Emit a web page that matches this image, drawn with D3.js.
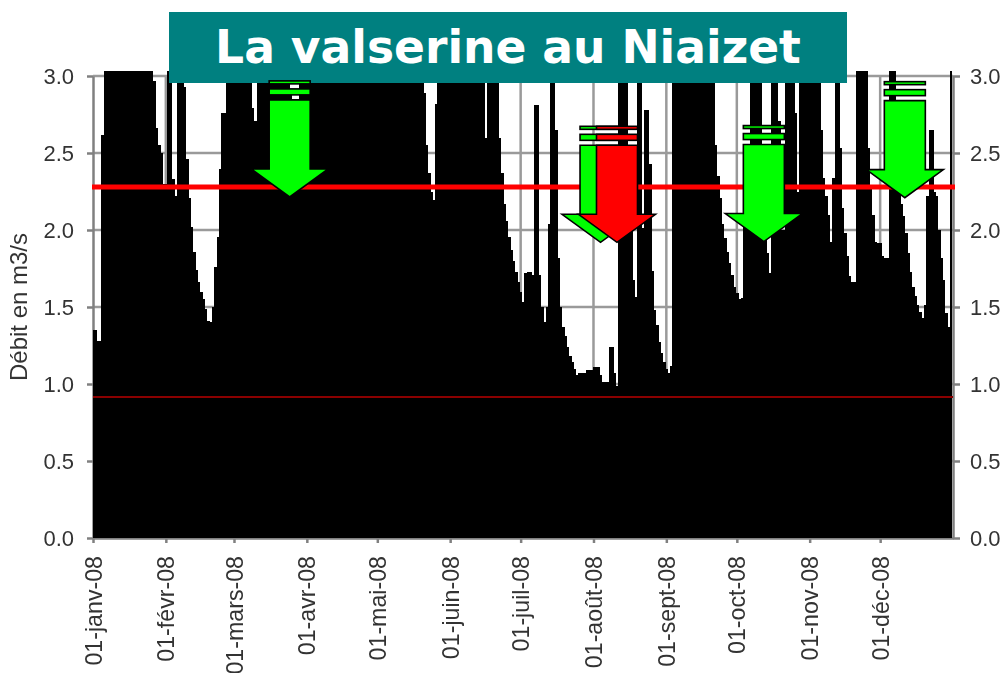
<!DOCTYPE html>
<html lang="fr">
<head>
<meta charset="UTF-8">
<title>La valserine au Niaizet</title>
<script src="https://d3js.org/d3.v7.min.js"></script>
<style>
    html, body { margin: 0; padding: 0; background: #fff; overflow: hidden; }
    svg { display: block; }
    .tick text, .ylabel { font-family: "Liberation Sans", Arial, sans-serif; fill: #333; }
    .tick line, .domain { stroke: #808080; stroke-width: 2.5; }
    .grid line { stroke: #9a9a9a; stroke-width: 2.5; }
    .soft { filter: blur(0.55px); }
    .bars rect { shape-rendering: crispEdges; }
</style>
</head>
<body>
<script>
const title = "La valserine au Niaizet";
const yLabel = "Débit en m3/s";
const monthLabels = ["01-janv-08", "01-févr-08", "01-mars-08", "01-avr-08", "01-mai-08", "01-juin-08",
    "01-juil-08", "01-août-08", "01-sept-08", "01-oct-08", "01-nov-08", "01-déc-08"];
const yTicks = [0, 0.5, 1, 1.5, 2, 2.5, 3];

// daily flow (m3/s), one list per month; 3.03 = off the top of the chart
const janv = [1.35,1.35,1.28,1.28,2.62,3.03,3.03,3.03,3.03,3.03,3.03,3.03,3.03,3.03,3.03,3.03,3.03,3.03,3.03,3.03,3.03,3.03,3.03,3.03,3.03,3.03,2.97,2.66,2.55,2.5,2.3];
const fevr = [2.3,3.03,3.03,2.33,2.22,3.03,3.03,3.03,2.93,2.46,2.21,2.02,1.86,1.74,1.665,1.6,1.55,1.49,1.41,1.405,1.5,1.76,1.955,2.395,2.76,2.76,3.03,3.03,3.03];
const mars = [3.03,3.03,3.03,3.03,3.03,3.03,3.03,3.03,2.79,2.71,3.03,3.03,3.03,3.03,3.03,3.03,3.03,3.03,3.03,3.03,3.03,3.03,3.03,3.03,2.9,2.82,2.82,2.82,3.03,3.03,3.03];
const avr = [3.03,3.03,3.03,3.03,3.03,3.03,3.03,3.03,3.03,3.03,3.03,3.03,3.03,3.03,3.03,3.03,3.03,3.03,3.03,3.03,3.03,3.03,3.03,3.03,3.03,3.03,3.03,3.03,3.03,3.03];
const mai = [3.03,3.03,3.03,3.03,3.03,3.03,3.03,3.03,3.03,3.03,3.03,3.03,3.03,3.03,3.03,3.03,3.03,3.03,3.03,3.03,2.89,2.55,2.37,2.25,2.195,2.82,3.03,3.03,3.03,3.03,3.03];
const juin = [3.03,3.03,3.03,3.03,3.03,3.03,3.03,3.03,3.03,3.03,3.03,3.03,3.03,3.03,3.03,2.6,3.03,3.03,3.03,3.03,3.03,2.6,2.37,2.17,2.06,1.955,1.87,1.8,1.73,1.665];
const juil = [1.6,1.53,1.72,1.73,1.73,1.71,2.81,2.81,1.71,1.5,1.405,1.5,2.04,3.03,3.03,2.65,1.82,1.5,1.37,1.31,1.24,1.18,1.145,1.1,1.06,1.07,1.07,1.07,1.09,1.09,1.09];
const aout = [1.11,1.11,1.11,1.06,1.01,1.01,1.01,1.24,1.24,1.07,0.99,3.03,3.03,3.03,3.03,2.05,2.05,1.675,1.565,3.03,3.03,2.01,2.78,2.78,2.43,1.735,1.48,1.38,1.275,1.2,1.145];
const sept = [1.1,1.07,1.12,3.03,3.03,3.03,3.03,3.03,3.03,3.03,3.03,3.03,3.03,3.03,3.03,3.03,3.03,3.03,3.03,3.03,3.03,2.55,2.35,2.21,2.04,1.95,1.86,1.785,1.71,1.63];
const oct = [1.59,1.55,1.56,2.1,2.1,2.1,3.03,3.03,3.03,3.03,3.03,2,2,1.85,1.72,3.03,3.03,3.03,2.71,2,2,3.03,3.03,3.03,3.03,2.76,2.25,3.03,3.03,3.03,3.03];
const nov = [3.03,3.03,3.03,3.03,3.03,2.65,2.34,2.22,2.1,1.92,2.34,3.03,3.03,2.53,2.14,1.98,1.83,1.7,1.665,1.665,3.03,3.03,3.03,3.03,3.03,2.53,2.27,2.1,1.92,1.915];
const dec = [1.915,1.83,1.82,1.82,3.03,3.03,3.03,2.3,2.25,2.17,2.09,1.98,1.85,1.73,1.63,1.57,1.51,1.47,1.43,1.51,2.22,2.65,2.65,2.25,2.22,2,1.82,1.675,1.46,1.37,3.03];
const months = [janv, fevr, mars, avr, mai, juin, juil, aout, sept, oct, nov, dec];

// the two reference flows
const seuilHaut = 2.28;
const seuilBas = 0.915;

// arrows: day of year of the tip, flow at the tip, colour (drawn in this order)
const arrowDays = [83.7, 216, 223, 285.5, 345.5];
const arrowTips = [2.215, 1.92, 1.92, 1.925, 2.21];
const arrowColors = ["#00ff00", "#00ff00", "#ff0000", "#00ff00", "#00ff00"];

const width = 1006, height = 673;
const margin = { top: 76, right: 53, bottom: 135, left: 93 };

const flow = months.flat();
let start = 0;
const monthStarts = months.map(m => { const s = start; start += m.length; return s; });

const x = d3.scaleLinear().domain([0, flow.length]).range([margin.left, width - margin.right]);
const y = d3.scaleLinear().domain([0, 3]).range([height - margin.bottom, margin.top]);

const svg = d3.select("body").append("svg").attr("width", width).attr("height", height);
const chart = svg.append("g").attr("class", "soft");

// grid
chart.append("g").attr("class", "grid").selectAll("line").data(yTicks.slice(1)).enter().append("line")
    .attr("x1", x.range()[0]).attr("x2", x.range()[1])
    .attr("y1", d => y(d)).attr("y2", d => y(d));
chart.append("g").attr("class", "grid").selectAll("line").data(monthStarts.slice(1)).enter().append("line")
    .attr("x1", d => x(d)).attr("x2", d => x(d))
    .attr("y1", y.range()[0]).attr("y2", y.range()[1]);

// axes
const axisY = chart.append("g").attr("transform", `translate(${x.range()[0]},0)`)
    .call(d3.axisLeft(y).tickValues(yTicks).tickFormat(d3.format(".1f")).tickSize(6).tickSizeOuter(0).tickPadding(13));
const axisY2 = chart.append("g").attr("transform", `translate(${x.range()[1]},0)`)
    .call(d3.axisRight(y).tickValues(yTicks).tickFormat(d3.format(".1f")).tickSize(7).tickSizeOuter(0).tickPadding(10));
[axisY, axisY2].forEach(a => a.selectAll("text").attr("font-size", 22));

const axisX = chart.append("g").attr("transform", `translate(0,${y.range()[0]})`)
    .call(d3.axisBottom(x).tickValues(monthStarts).tickFormat((d, i) => monthLabels[i]).tickSize(5).tickSizeOuter(0));
axisX.selectAll("text")
    .attr("font-size", 23.2)
    .attr("text-anchor", "end")
    .attr("transform", "rotate(-90)")
    .attr("x", -18)
    .attr("y", 0)
    .attr("dy", "0.35em");

chart.append("text").attr("class", "ylabel")
    .attr("transform", `translate(27,${y(1.5)}) rotate(-90)`)
    .attr("text-anchor", "middle")
    .attr("font-size", 24)
    .text(yLabel);

// daily bars
chart.append("g").attr("class", "bars").selectAll("rect").data(flow).enter().append("rect")
    .attr("x", (d, i) => x(Math.max(i - 0.4, 0)))
    .attr("width", (d, i) => x(i + 0.6) - x(Math.max(i - 0.4, 0)) + 0.3)
    .attr("y", d => y(d))
    .attr("height", d => y(0) - y(d))
    .attr("fill", "#000");

// reference lines
chart.append("line").attr("x1", x.range()[0] - 1).attr("x2", x.range()[1] + 2)
    .attr("y1", y(seuilHaut)).attr("y2", y(seuilHaut))
    .attr("stroke", "#ff0000").attr("stroke-width", 5);
chart.append("line").attr("x1", x.range()[0]).attr("x2", x.range()[1])
    .attr("y1", y(seuilBas)).attr("y2", y(seuilBas))
    .attr("stroke", "#8b0000").attr("stroke-width", 2);

// title banner, under the arrows
svg.append("rect").attr("x", 169).attr("y", 12).attr("width", 678).attr("height", 71).attr("fill", "#008080");
svg.append("text").attr("x", 508).attr("y", 63)
    .attr("text-anchor", "middle")
    .attr("font-family", "'DejaVu Sans', Verdana, sans-serif")
    .attr("font-weight", "bold")
    .attr("font-size", 45.6)
    .attr("fill", "#fff")
    .text(title);

// block arrows with two broken bands over the shaft
function drawArrow(day, tip, color) {
    const cx = x(day), ty = y(tip);
    const g = svg.append("g").attr("fill", color).attr("stroke", "#000").attr("stroke-width", 1.6);
    g.append("polygon").attr("points", [
        [cx - 20.5, ty - 97], [cx + 20.5, ty - 97], [cx + 20.5, ty - 28], [cx + 38.5, ty - 28],
        [cx, ty], [cx - 38.5, ty - 28], [cx - 20.5, ty - 28]
    ].join(" "));
    g.append("rect").attr("x", cx - 20.5).attr("width", 41).attr("y", ty - 108).attr("height", 6);
    g.append("rect").attr("x", cx - 20.5).attr("width", 41).attr("y", ty - 116).attr("height", 3);
}
arrowDays.forEach((d, i) => drawArrow(d, arrowTips[i], arrowColors[i]));
</script>
</body>
</html>
